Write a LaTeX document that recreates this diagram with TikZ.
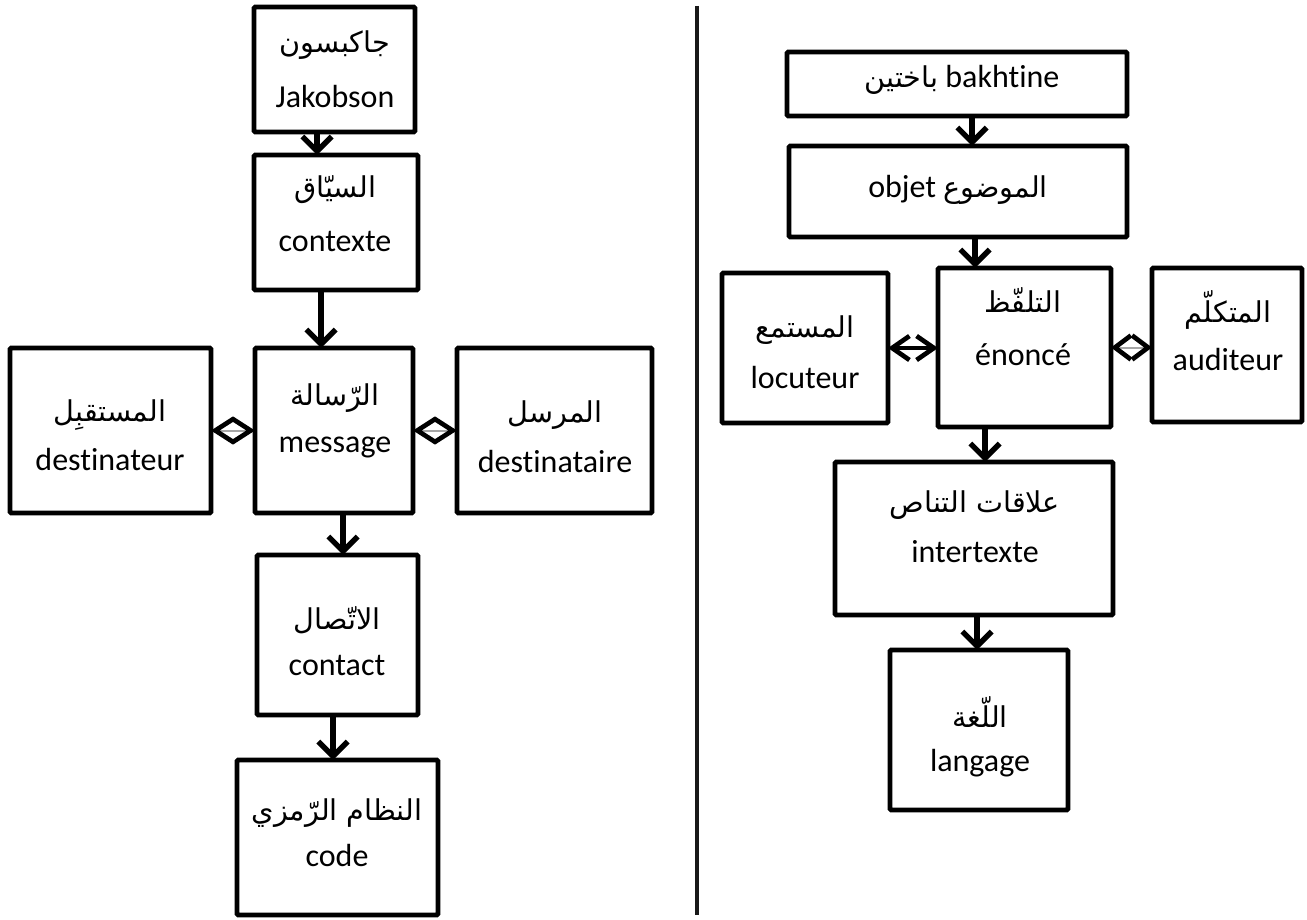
\documentclass[tikz,border=0pt]{standalone}
\usepackage{fontspec}
\setmainfont{Carlito}[Ligatures=NoCommon]
\newfontfamily\arabicfont[Script=Arabic]{DejaVu Sans}
\TeXXeTstate=1
\usetikzlibrary{arrows.meta}
% Arabic run, set right to left
\newcommand\artxt[1]{{\arabicfont\fontsize{21.5}{25}\selectfont\beginR #1\endR}}
% box from corner (x1,y1) to corner (x2,y2), in pixel units
\newcommand\mkbox[5]{\node[box, minimum width={(#4-#2)*0.75pt}, minimum height={(#5-#3)*0.75pt}] (#1) at ({(#2+#4)/2},{(#3+#5)/2}) {};}

\begin{document}
\begin{tikzpicture}[x=0.75pt, y=-0.75pt,
  box/.style={draw, line width=3.6pt, rounded corners=1pt, inner sep=0pt, outer sep=0pt},
  lat/.style={font=\fontsize{24}{28}\selectfont, inner sep=0pt},
  arab/.style={inner sep=0pt},
  down/.style={line width=4.5pt, -{Straight Barb[length=11pt, width=22pt, line width=4pt]}},
  twin/.style={line width=1.5pt, draw=gray!70,
    {Straight Barb[length=#1, width=18pt, line width=3.5pt, color=black]}-{Straight Barb[length=#1, width=18pt, line width=3.5pt, color=black]}},
  twin/.default=14pt,
  pair/.style={line width=3.5pt,
    {Straight Barb[length=13pt, width=18pt, line width=3.5pt]}-{Straight Barb[length=13pt, width=18pt, line width=3.5pt]}}
]
\useasboundingbox (0,0) rectangle (1307,920);

% ---------- Jakobson ----------
\mkbox{jak}{254}{7}{415}{132}
\mkbox{ctx}{254}{155}{418}{290}
\mkbox{msg}{255}{348}{413}{513}
\mkbox{dst}{10}{348}{211}{513}
\mkbox{dsr}{457}{348}{652}{513}
\mkbox{cnt}{257}{555}{418}{715}
\mkbox{cod}{237}{760}{438}{915}

\node[arab] (jak-a) at (335,45) {\artxt{جاكبسون}};
\node[lat]  (jak-l) at (335,97) {Jakobson};
\node[arab] (ctx-a) at (335,190) {\artxt{السيّاق}};
\node[lat]  (ctx-l) at (335,242) {contexte};
\node[arab] (msg-a) at (335,398) {\artxt{الرّسالة}};
\node[lat]  (msg-l) at (335,447) {message};
\node[arab] (dst-a) at (110,415) {\artxt{المستقبِل}};
\node[lat]  (dst-l) at (110,460) {destinateur};
\node[arab] (dsr-a) at (555,415) {\artxt{المرسل}};
\node[lat]  (dsr-l) at (555,462) {destinataire};
\node[arab] (cnt-a) at (337,620) {\artxt{الاتّصال}};
\node[lat]  (cnt-l) at (337,665) {contact};
\node[arab] (cod-a) at (337,813) {\artxt{النظام الرّمزي}};
\node[lat]  (cod-l) at (337,855) {code};

\coordinate (xa) at (317,0);
\coordinate (xb) at (321,0);
\coordinate (xc) at (343,0);
\coordinate (xd) at (333,0);
\draw[down] (jak.south -| xa) -- (ctx.north -| xa);
\draw[down] (ctx.south -| xb) -- (msg.north -| xb);
\draw[down] (msg.south -| xc) -- (cnt.north -| xc);
\draw[down] (cnt.south -| xd) -- (cod.north -| xd);
\draw[twin] (dst.east) -- (msg.west);
\draw[twin] (msg.east) -- (dsr.west);

% ---------- divider ----------
\coordinate (top) at (697,6);
\coordinate (bot) at (697,915);
\draw[line width=3.6pt, draw=black!90] (top) -- (bot);

% ---------- Bakhtine ----------
\mkbox{bak}{787}{52}{1127}{116}
\mkbox{obj}{789}{146}{1127}{237}
\mkbox{eno}{938}{268}{1111}{427}
\mkbox{loc}{722}{273}{888}{423}
\mkbox{aud}{1152}{268}{1302}{422}
\mkbox{itx}{835}{462}{1113}{615}
\mkbox{lng}{890}{650}{1068}{810}

\node[lat] (bak-t) at (962,80) {\artxt{باختين} bakhtine};
\node[lat] (obj-t) at (958,190) {objet \artxt{الموضوع}};
\node[arab] (eno-a) at (1023,300) {\artxt{التلفّظ}};
\node[lat]  (eno-l) at (1023,355) {énoncé};
\node[arab] (loc-a) at (805,330) {\artxt{المستمع}};
\node[lat]  (loc-l) at (805,378) {locuteur};
\node[arab] (aud-a) at (1228,310) {\artxt{المتكلّم}};
\node[lat]  (aud-l) at (1228,360) {auditeur};
\node[arab] (itx-a) at (975,505) {\artxt{علاقات التناص}};
\node[lat]  (itx-l) at (975,552) {intertexte};
\node[arab] (lng-a) at (980,712) {\artxt{اللّغة}};
\node[lat]  (lng-l) at (980,763) {langage};

\coordinate (xe) at (972,0);
\coordinate (xf) at (975,0);
\coordinate (xg) at (985,0);
\coordinate (xh) at (977,0);
\draw[down] (bak.south -| xe) -- (obj.north -| xe);
\draw[down] (obj.south -| xf) -- (eno.north -| xf);
\draw[down] (eno.south -| xg) -- (itx.north -| xg);
\draw[down] (itx.south -| xh) -- (lng.north -| xh);
\draw[pair] (loc.east) -- (loc.east -| eno.west);
\draw[twin=12pt] (eno.east) -- (eno.east -| aud.west);
\end{tikzpicture}
\end{document}
